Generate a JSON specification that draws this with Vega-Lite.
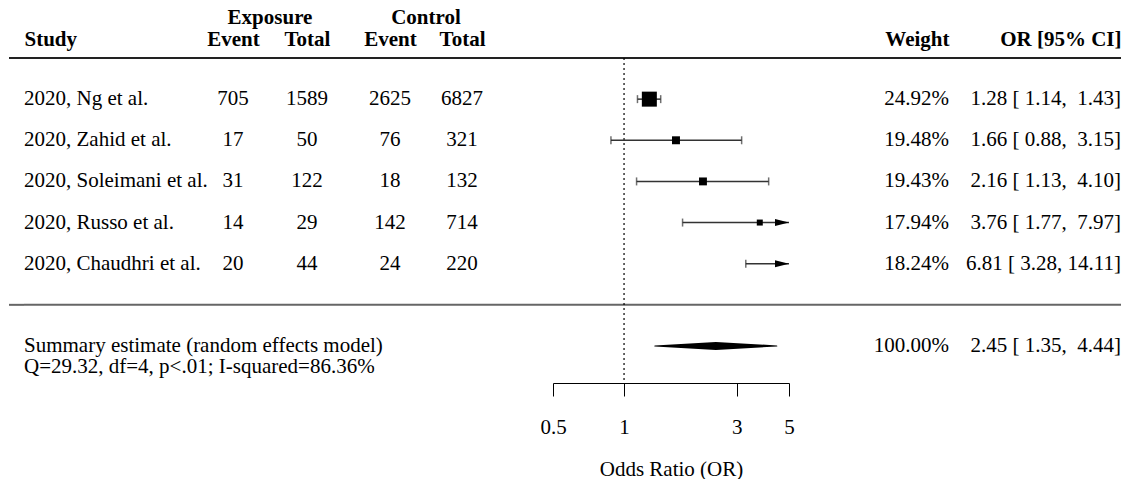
{
  "$schema": "https://vega.github.io/schema/vega-lite/v6.json",
  "background": "white",
  "padding": {"left": 8, "top": 7, "right": 0, "bottom": 0},
  "spacing": 0,
  "bounds": "flush",
  "datasets": {
    "rows": [
      {"type": "study", "study": "2020, Ng et al.", "e_event": 705, "e_total": 1589, "c_event": 2625, "c_total": 6827, "or": 1.28, "lo": 1.14, "hi": 1.43, "weight": 0.2492, "ci": "1.28 [ 1.14,\u00a0 1.43]"},
      {"type": "study", "study": "2020, Zahid et al.", "e_event": 17, "e_total": 50, "c_event": 76, "c_total": 321, "or": 1.66, "lo": 0.88, "hi": 3.15, "weight": 0.1948, "ci": "1.66 [ 0.88,\u00a0 3.15]"},
      {"type": "study", "study": "2020, Soleimani et al.", "e_event": 31, "e_total": 122, "c_event": 18, "c_total": 132, "or": 2.16, "lo": 1.13, "hi": 4.10, "weight": 0.1943, "ci": "2.16 [ 1.13,\u00a0 4.10]"},
      {"type": "study", "study": "2020, Russo et al.", "e_event": 14, "e_total": 29, "c_event": 142, "c_total": 714, "or": 3.76, "lo": 1.77, "hi": 7.97, "weight": 0.1794, "ci": "3.76 [ 1.77,\u00a0 7.97]"},
      {"type": "study", "study": "2020, Chaudhri et al.", "e_event": 20, "e_total": 44, "c_event": 24, "c_total": 220, "or": 6.81, "lo": 3.28, "hi": 14.11, "weight": 0.1824, "ci": "6.81 [ 3.28, 14.11]"},
      {"type": "summary", "study": "Summary estimate (random effects model)\nQ=29.32, df=4, p<.01; I-squared=86.36%", "or": 2.45, "lo": 1.35, "hi": 4.44, "weight": 1.0, "ci": "2.45 [ 1.35,\u00a0 4.44]"}
    ],
    "seps": [{"sep": "_top"}, {"sep": "_mid"}]
  },
  "config": {
    "view": {"stroke": null},
    "font": "Liberation Serif",
    "text": {"font": "Liberation Serif", "fontSize": 21, "color": "black"},
    "axis": {"labelFont": "Liberation Serif", "titleFont": "Liberation Serif", "labelColor": "black", "titleColor": "black", "grid": false},
    "title": {"font": "Liberation Serif", "fontSize": 21, "fontWeight": "bold", "color": "black"}
  },
  "hconcat": [
    {
      "width": 15, "height": 325,
      "layer": [
        {"data": {"name": "seps"}, "transform": [{"filter": "datum.sep === '_top'"}], "mark": {"type": "rule", "color": "#222", "strokeWidth": 2}, "encoding": {"y": {"field": "sep", "type": "nominal", "scale": {"type": "point", "domain": ["_top", "2020, Ng et al.", "2020, Zahid et al.", "2020, Soleimani et al.", "2020, Russo et al.", "2020, Chaudhri et al.", "_mid", "Summary estimate (random effects model)\nQ=29.32, df=4, p<.01; I-squared=86.36%"], "padding": 0.45, "align": 0}, "axis": null}}},
        {"data": {"name": "seps"}, "transform": [{"filter": "datum.sep === '_mid'"}], "mark": {"type": "rule", "color": "#666", "strokeWidth": 2}, "encoding": {"y": {"field": "sep", "type": "nominal", "scale": {"type": "point", "domain": ["_top", "2020, Ng et al.", "2020, Zahid et al.", "2020, Soleimani et al.", "2020, Russo et al.", "2020, Chaudhri et al.", "_mid", "Summary estimate (random effects model)\nQ=29.32, df=4, p<.01; I-squared=86.36%"], "padding": 0.45, "align": 0}, "axis": null}}}
      ]
    },
    {
      "width": 167, "height": 325,
      "layer": [
        {"data": {"name": "seps"}, "transform": [{"filter": "datum.sep === '_top'"}], "mark": {"type": "rule", "color": "#222", "strokeWidth": 2}, "encoding": {"y": {"field": "sep", "type": "nominal", "scale": {"type": "point", "domain": ["_top", "2020, Ng et al.", "2020, Zahid et al.", "2020, Soleimani et al.", "2020, Russo et al.", "2020, Chaudhri et al.", "_mid", "Summary estimate (random effects model)\nQ=29.32, df=4, p<.01; I-squared=86.36%"], "padding": 0.45, "align": 0}, "axis": null}}},
        {"data": {"name": "seps"}, "transform": [{"filter": "datum.sep === '_mid'"}], "mark": {"type": "rule", "color": "#666", "strokeWidth": 2}, "encoding": {"y": {"field": "sep", "type": "nominal", "scale": {"type": "point", "domain": ["_top", "2020, Ng et al.", "2020, Zahid et al.", "2020, Soleimani et al.", "2020, Russo et al.", "2020, Chaudhri et al.", "_mid", "Summary estimate (random effects model)\nQ=29.32, df=4, p<.01; I-squared=86.36%"], "padding": 0.45, "align": 0}, "axis": null}}},
        {
          "data": {"name": "rows"},
          "transform": [{"filter": "datum.type === 'study'"}, {"fold": ["study"], "as": ["key", "value"]}],
          "mark": {"type": "text", "align": "left", "baseline": "middle"},
          "encoding": {
            "x": {"field": "key", "type": "nominal", "scale": {"type": "point", "domain": ["study"], "align": 0}, "axis": {"orient": "top", "labelExpr": "'Study'", "labelAlign": "left", "labelAngle": 0, "labelFontWeight": "bold", "labelFontSize": 21, "labelBaseline": "alphabetic", "labelPadding": 13, "ticks": false, "tickSize": 0, "domain": false, "title": null}},
            "y": {"field": "study", "type": "nominal", "scale": {"type": "point", "domain": ["_top", "2020, Ng et al.", "2020, Zahid et al.", "2020, Soleimani et al.", "2020, Russo et al.", "2020, Chaudhri et al.", "_mid", "Summary estimate (random effects model)\nQ=29.32, df=4, p<.01; I-squared=86.36%"], "padding": 0.45, "align": 0}, "axis": null},
            "text": {"field": "value", "type": "nominal"}
          }
        },
        {
          "data": {"name": "rows"},
          "transform": [{"filter": "datum.type === 'summary'"}, {"fold": ["study"], "as": ["key", "value"]}],
          "mark": {"type": "text", "align": "left", "baseline": "middle", "lineBreak": "\n", "lineHeight": 21, "dy": 0},
          "encoding": {
            "x": {"field": "key", "type": "nominal", "scale": {"type": "point", "domain": ["study"], "align": 0}, "axis": {"orient": "top", "labelExpr": "'Study'", "labelAlign": "left", "labelAngle": 0, "labelFontWeight": "bold", "labelFontSize": 21, "labelBaseline": "alphabetic", "labelPadding": 13, "ticks": false, "tickSize": 0, "domain": false, "title": null}},
            "y": {"field": "study", "type": "nominal", "scale": {"type": "point", "domain": ["_top", "2020, Ng et al.", "2020, Zahid et al.", "2020, Soleimani et al.", "2020, Russo et al.", "2020, Chaudhri et al.", "_mid", "Summary estimate (random effects model)\nQ=29.32, df=4, p<.01; I-squared=86.36%"], "padding": 0.45, "align": 0}, "axis": null},
            "text": {"field": "value", "type": "nominal"}
          }
        }
      ]
    },
    {
      "width": 158, "height": 325,
      "title": {"text": "Exposure", "anchor": "middle", "offset": 0},
      "layer": [
        {"data": {"name": "seps"}, "transform": [{"filter": "datum.sep === '_top'"}], "mark": {"type": "rule", "color": "#222", "strokeWidth": 2}, "encoding": {"y": {"field": "sep", "type": "nominal", "scale": {"type": "point", "domain": ["_top", "2020, Ng et al.", "2020, Zahid et al.", "2020, Soleimani et al.", "2020, Russo et al.", "2020, Chaudhri et al.", "_mid", "Summary estimate (random effects model)\nQ=29.32, df=4, p<.01; I-squared=86.36%"], "padding": 0.45, "align": 0}, "axis": null}}},
        {"data": {"name": "seps"}, "transform": [{"filter": "datum.sep === '_mid'"}], "mark": {"type": "rule", "color": "#666", "strokeWidth": 2}, "encoding": {"y": {"field": "sep", "type": "nominal", "scale": {"type": "point", "domain": ["_top", "2020, Ng et al.", "2020, Zahid et al.", "2020, Soleimani et al.", "2020, Russo et al.", "2020, Chaudhri et al.", "_mid", "Summary estimate (random effects model)\nQ=29.32, df=4, p<.01; I-squared=86.36%"], "padding": 0.45, "align": 0}, "axis": null}}},
        {
          "data": {"name": "rows"},
          "transform": [{"filter": "datum.type === 'study'"}, {"fold": ["e_event", "e_total"], "as": ["key", "value"]}],
          "mark": {"type": "text", "align": "center", "baseline": "middle"},
          "encoding": {
            "x": {"field": "key", "type": "nominal", "scale": {"type": "point", "domain": ["e_event", "e_total"], "padding": 0.568}, "axis": {"orient": "top", "labelExpr": "datum.value === 'e_event' ? 'Event' : 'Total'", "labelAlign": "center", "labelAngle": 0, "labelFontWeight": "bold", "labelFontSize": 21, "labelBaseline": "alphabetic", "labelPadding": 13, "ticks": false, "tickSize": 0, "domain": false, "title": null}},
            "y": {"field": "study", "type": "nominal", "scale": {"type": "point", "domain": ["_top", "2020, Ng et al.", "2020, Zahid et al.", "2020, Soleimani et al.", "2020, Russo et al.", "2020, Chaudhri et al.", "_mid", "Summary estimate (random effects model)\nQ=29.32, df=4, p<.01; I-squared=86.36%"], "padding": 0.45, "align": 0}, "axis": null},
            "text": {"field": "value", "type": "quantitative", "format": "d"}
          }
        }
      ]
    },
    {
      "width": 154, "height": 325,
      "title": {"text": "Control", "anchor": "middle", "offset": 0},
      "layer": [
        {"data": {"name": "seps"}, "transform": [{"filter": "datum.sep === '_top'"}], "mark": {"type": "rule", "color": "#222", "strokeWidth": 2}, "encoding": {"y": {"field": "sep", "type": "nominal", "scale": {"type": "point", "domain": ["_top", "2020, Ng et al.", "2020, Zahid et al.", "2020, Soleimani et al.", "2020, Russo et al.", "2020, Chaudhri et al.", "_mid", "Summary estimate (random effects model)\nQ=29.32, df=4, p<.01; I-squared=86.36%"], "padding": 0.45, "align": 0}, "axis": null}}},
        {"data": {"name": "seps"}, "transform": [{"filter": "datum.sep === '_mid'"}], "mark": {"type": "rule", "color": "#666", "strokeWidth": 2}, "encoding": {"y": {"field": "sep", "type": "nominal", "scale": {"type": "point", "domain": ["_top", "2020, Ng et al.", "2020, Zahid et al.", "2020, Soleimani et al.", "2020, Russo et al.", "2020, Chaudhri et al.", "_mid", "Summary estimate (random effects model)\nQ=29.32, df=4, p<.01; I-squared=86.36%"], "padding": 0.45, "align": 0}, "axis": null}}},
        {
          "data": {"name": "rows"},
          "transform": [{"filter": "datum.type === 'study'"}, {"fold": ["c_event", "c_total"], "as": ["key", "value"]}],
          "mark": {"type": "text", "align": "center", "baseline": "middle"},
          "encoding": {
            "x": {"field": "key", "type": "nominal", "scale": {"type": "point", "domain": ["c_event", "c_total"], "padding": 0.569}, "axis": {"orient": "top", "labelExpr": "datum.value === 'c_event' ? 'Event' : 'Total'", "labelAlign": "center", "labelAngle": 0, "labelFontWeight": "bold", "labelFontSize": 21, "labelBaseline": "alphabetic", "labelPadding": 13, "ticks": false, "tickSize": 0, "domain": false, "title": null}},
            "y": {"field": "study", "type": "nominal", "scale": {"type": "point", "domain": ["_top", "2020, Ng et al.", "2020, Zahid et al.", "2020, Soleimani et al.", "2020, Russo et al.", "2020, Chaudhri et al.", "_mid", "Summary estimate (random effects model)\nQ=29.32, df=4, p<.01; I-squared=86.36%"], "padding": 0.45, "align": 0}, "axis": null},
            "text": {"field": "value", "type": "quantitative", "format": "d"}
          }
        }
      ]
    },
    {
      "width": 50, "height": 325,
      "layer": [
        {"data": {"name": "seps"}, "transform": [{"filter": "datum.sep === '_top'"}], "mark": {"type": "rule", "color": "#222", "strokeWidth": 2}, "encoding": {"y": {"field": "sep", "type": "nominal", "scale": {"type": "point", "domain": ["_top", "2020, Ng et al.", "2020, Zahid et al.", "2020, Soleimani et al.", "2020, Russo et al.", "2020, Chaudhri et al.", "_mid", "Summary estimate (random effects model)\nQ=29.32, df=4, p<.01; I-squared=86.36%"], "padding": 0.45, "align": 0}, "axis": null}}},
        {"data": {"name": "seps"}, "transform": [{"filter": "datum.sep === '_mid'"}], "mark": {"type": "rule", "color": "#666", "strokeWidth": 2}, "encoding": {"y": {"field": "sep", "type": "nominal", "scale": {"type": "point", "domain": ["_top", "2020, Ng et al.", "2020, Zahid et al.", "2020, Soleimani et al.", "2020, Russo et al.", "2020, Chaudhri et al.", "_mid", "Summary estimate (random effects model)\nQ=29.32, df=4, p<.01; I-squared=86.36%"], "padding": 0.45, "align": 0}, "axis": null}}}
      ]
    },
    {
      "width": 236, "height": 325,
      "layer": [
        {"data": {"name": "seps"}, "transform": [{"filter": "datum.sep === '_top'"}], "mark": {"type": "rule", "color": "#222", "strokeWidth": 2}, "encoding": {"y": {"field": "sep", "type": "nominal", "scale": {"type": "point", "domain": ["_top", "2020, Ng et al.", "2020, Zahid et al.", "2020, Soleimani et al.", "2020, Russo et al.", "2020, Chaudhri et al.", "_mid", "Summary estimate (random effects model)\nQ=29.32, df=4, p<.01; I-squared=86.36%"], "padding": 0.45, "align": 0}, "axis": null}}},
        {"data": {"name": "seps"}, "transform": [{"filter": "datum.sep === '_mid'"}], "mark": {"type": "rule", "color": "#666", "strokeWidth": 2}, "encoding": {"y": {"field": "sep", "type": "nominal", "scale": {"type": "point", "domain": ["_top", "2020, Ng et al.", "2020, Zahid et al.", "2020, Soleimani et al.", "2020, Russo et al.", "2020, Chaudhri et al.", "_mid", "Summary estimate (random effects model)\nQ=29.32, df=4, p<.01; I-squared=86.36%"], "padding": 0.45, "align": 0}, "axis": null}}},
        {
          "data": {"name": "seps"}, "transform": [{"filter": "datum.sep === '_top'"}],
          "mark": {"type": "rule", "color": "black", "strokeWidth": 1.2, "strokeDash": [2, 3]},
          "encoding": {
            "x": {"datum": 1, "type": "quantitative", "title": "Odds Ratio (OR)", "scale": {"type": "log", "domain": [0.5, 5], "nice": false}, "axis": {"values": [0.5, 1, 3, 5], "format": "~g", "labelFlush": false, "labelOverlap": false, "domainColor": "black", "domainWidth": 1, "tickColor": "black", "tickWidth": 1, "tickSize": 13, "labelFontSize": 21, "labelPadding": 20, "title": "Odds Ratio (OR)", "titleFontSize": 21, "titleFontWeight": "normal", "titlePadding": 21, "grid": false}}
          }
        },
        {
          "data": {"name": "rows"}, "transform": [{"filter": "datum.type === 'study'"}],
          "mark": {"type": "rule", "color": "#333", "strokeWidth": 1.5, "clip": true},
          "encoding": {
            "x": {"field": "lo", "type": "quantitative", "title": "Odds Ratio (OR)", "scale": {"type": "log", "domain": [0.5, 5], "nice": false}, "axis": {"values": [0.5, 1, 3, 5], "format": "~g", "labelFlush": false, "labelOverlap": false, "domainColor": "black", "domainWidth": 1, "tickColor": "black", "tickWidth": 1, "tickSize": 13, "labelFontSize": 21, "labelPadding": 20, "title": "Odds Ratio (OR)", "titleFontSize": 21, "titleFontWeight": "normal", "titlePadding": 21, "grid": false}},
            "x2": {"field": "hi"},
            "y": {"field": "study", "type": "nominal", "scale": {"type": "point", "domain": ["_top", "2020, Ng et al.", "2020, Zahid et al.", "2020, Soleimani et al.", "2020, Russo et al.", "2020, Chaudhri et al.", "_mid", "Summary estimate (random effects model)\nQ=29.32, df=4, p<.01; I-squared=86.36%"], "padding": 0.45, "align": 0}, "axis": null}
          }
        },
        {
          "data": {"name": "rows"}, "transform": [{"filter": "datum.type === 'study'"}],
          "mark": {"type": "tick", "orient": "vertical", "color": "#333", "size": 8, "thickness": 1.5},
          "encoding": {
            "x": {"field": "lo", "type": "quantitative", "title": "Odds Ratio (OR)", "scale": {"type": "log", "domain": [0.5, 5], "nice": false}, "axis": {"values": [0.5, 1, 3, 5], "format": "~g", "labelFlush": false, "labelOverlap": false, "domainColor": "black", "domainWidth": 1, "tickColor": "black", "tickWidth": 1, "tickSize": 13, "labelFontSize": 21, "labelPadding": 20, "title": "Odds Ratio (OR)", "titleFontSize": 21, "titleFontWeight": "normal", "titlePadding": 21, "grid": false}},
            "y": {"field": "study", "type": "nominal", "scale": {"type": "point", "domain": ["_top", "2020, Ng et al.", "2020, Zahid et al.", "2020, Soleimani et al.", "2020, Russo et al.", "2020, Chaudhri et al.", "_mid", "Summary estimate (random effects model)\nQ=29.32, df=4, p<.01; I-squared=86.36%"], "padding": 0.45, "align": 0}, "axis": null}
          }
        },
        {
          "data": {"name": "rows"}, "transform": [{"filter": "datum.type === 'study' && datum.hi <= 5"}],
          "mark": {"type": "tick", "orient": "vertical", "color": "#333", "size": 8, "thickness": 1.5},
          "encoding": {
            "x": {"field": "hi", "type": "quantitative", "title": "Odds Ratio (OR)", "scale": {"type": "log", "domain": [0.5, 5], "nice": false}, "axis": {"values": [0.5, 1, 3, 5], "format": "~g", "labelFlush": false, "labelOverlap": false, "domainColor": "black", "domainWidth": 1, "tickColor": "black", "tickWidth": 1, "tickSize": 13, "labelFontSize": 21, "labelPadding": 20, "title": "Odds Ratio (OR)", "titleFontSize": 21, "titleFontWeight": "normal", "titlePadding": 21, "grid": false}},
            "y": {"field": "study", "type": "nominal", "scale": {"type": "point", "domain": ["_top", "2020, Ng et al.", "2020, Zahid et al.", "2020, Soleimani et al.", "2020, Russo et al.", "2020, Chaudhri et al.", "_mid", "Summary estimate (random effects model)\nQ=29.32, df=4, p<.01; I-squared=86.36%"], "padding": 0.45, "align": 0}, "axis": null}
          }
        },
        {
          "data": {"name": "rows"}, "transform": [{"filter": "datum.type === 'study' && datum.or <= 5"}],
          "mark": {"type": "point", "shape": "square", "filled": true, "color": "black", "opacity": 1},
          "encoding": {
            "x": {"field": "or", "type": "quantitative", "title": "Odds Ratio (OR)", "scale": {"type": "log", "domain": [0.5, 5], "nice": false}, "axis": {"values": [0.5, 1, 3, 5], "format": "~g", "labelFlush": false, "labelOverlap": false, "domainColor": "black", "domainWidth": 1, "tickColor": "black", "tickWidth": 1, "tickSize": 13, "labelFontSize": 21, "labelPadding": 20, "title": "Odds Ratio (OR)", "titleFontSize": 21, "titleFontWeight": "normal", "titlePadding": 21, "grid": false}},
            "y": {"field": "study", "type": "nominal", "scale": {"type": "point", "domain": ["_top", "2020, Ng et al.", "2020, Zahid et al.", "2020, Soleimani et al.", "2020, Russo et al.", "2020, Chaudhri et al.", "_mid", "Summary estimate (random effects model)\nQ=29.32, df=4, p<.01; I-squared=86.36%"], "padding": 0.45, "align": 0}, "axis": null},
            "size": {"field": "weight", "type": "quantitative", "scale": {"type": "pow", "exponent": 4, "domain": [0.1794, 0.2492], "range": [36, 225]}, "legend": null}
          }
        },
        {
          "data": {"name": "rows"}, "transform": [{"filter": "datum.type === 'study' && datum.hi > 5"}],
          "mark": {"type": "point", "shape": "M0,0L-2,-0.5L-2,0.5Z", "filled": true, "color": "black", "opacity": 1, "size": 196},
          "encoding": {
            "x": {"datum": 5, "type": "quantitative", "title": "Odds Ratio (OR)", "scale": {"type": "log", "domain": [0.5, 5], "nice": false}, "axis": {"values": [0.5, 1, 3, 5], "format": "~g", "labelFlush": false, "labelOverlap": false, "domainColor": "black", "domainWidth": 1, "tickColor": "black", "tickWidth": 1, "tickSize": 13, "labelFontSize": 21, "labelPadding": 20, "title": "Odds Ratio (OR)", "titleFontSize": 21, "titleFontWeight": "normal", "titlePadding": 21, "grid": false}},
            "y": {"field": "study", "type": "nominal", "scale": {"type": "point", "domain": ["_top", "2020, Ng et al.", "2020, Zahid et al.", "2020, Soleimani et al.", "2020, Russo et al.", "2020, Chaudhri et al.", "_mid", "Summary estimate (random effects model)\nQ=29.32, df=4, p<.01; I-squared=86.36%"], "padding": 0.45, "align": 0}, "axis": null}
          }
        },
        {
          "data": {"name": "rows"}, "transform": [{"filter": "datum.type === 'summary'"}, {"fold": ["lo", "or", "hi"], "as": ["k", "v"]}],
          "mark": {"type": "trail", "color": "black"},
          "encoding": {
            "x": {"field": "v", "type": "quantitative", "title": "Odds Ratio (OR)", "scale": {"type": "log", "domain": [0.5, 5], "nice": false}, "axis": {"values": [0.5, 1, 3, 5], "format": "~g", "labelFlush": false, "labelOverlap": false, "domainColor": "black", "domainWidth": 1, "tickColor": "black", "tickWidth": 1, "tickSize": 13, "labelFontSize": 21, "labelPadding": 20, "title": "Odds Ratio (OR)", "titleFontSize": 21, "titleFontWeight": "normal", "titlePadding": 21, "grid": false}},
            "y": {"field": "study", "type": "nominal", "scale": {"type": "point", "domain": ["_top", "2020, Ng et al.", "2020, Zahid et al.", "2020, Soleimani et al.", "2020, Russo et al.", "2020, Chaudhri et al.", "_mid", "Summary estimate (random effects model)\nQ=29.32, df=4, p<.01; I-squared=86.36%"], "padding": 0.45, "align": 0}, "axis": null},
            "order": {"field": "v", "type": "quantitative"},
            "size": {"condition": {"test": "datum.k === 'or'", "value": 8}, "value": 0}
          }
        }
      ]
    },
    {
      "width": 160, "height": 325,
      "layer": [
        {"data": {"name": "seps"}, "transform": [{"filter": "datum.sep === '_top'"}], "mark": {"type": "rule", "color": "#222", "strokeWidth": 2}, "encoding": {"y": {"field": "sep", "type": "nominal", "scale": {"type": "point", "domain": ["_top", "2020, Ng et al.", "2020, Zahid et al.", "2020, Soleimani et al.", "2020, Russo et al.", "2020, Chaudhri et al.", "_mid", "Summary estimate (random effects model)\nQ=29.32, df=4, p<.01; I-squared=86.36%"], "padding": 0.45, "align": 0}, "axis": null}}},
        {"data": {"name": "seps"}, "transform": [{"filter": "datum.sep === '_mid'"}], "mark": {"type": "rule", "color": "#666", "strokeWidth": 2}, "encoding": {"y": {"field": "sep", "type": "nominal", "scale": {"type": "point", "domain": ["_top", "2020, Ng et al.", "2020, Zahid et al.", "2020, Soleimani et al.", "2020, Russo et al.", "2020, Chaudhri et al.", "_mid", "Summary estimate (random effects model)\nQ=29.32, df=4, p<.01; I-squared=86.36%"], "padding": 0.45, "align": 0}, "axis": null}}},
        {
          "data": {"name": "rows"},
          "transform": [{"fold": ["weight"], "as": ["key", "value"]}],
          "mark": {"type": "text", "align": "right", "baseline": "middle"},
          "encoding": {
            "x": {"field": "key", "type": "nominal", "scale": {"type": "point", "domain": ["weight"], "align": 1}, "axis": {"orient": "top", "labelExpr": "'Weight'", "labelAlign": "right", "labelAngle": 0, "labelFontWeight": "bold", "labelFontSize": 21, "labelBaseline": "alphabetic", "labelPadding": 13, "ticks": false, "tickSize": 0, "domain": false, "title": null}},
            "y": {"field": "study", "type": "nominal", "scale": {"type": "point", "domain": ["_top", "2020, Ng et al.", "2020, Zahid et al.", "2020, Soleimani et al.", "2020, Russo et al.", "2020, Chaudhri et al.", "_mid", "Summary estimate (random effects model)\nQ=29.32, df=4, p<.01; I-squared=86.36%"], "padding": 0.45, "align": 0}, "axis": null},
            "text": {"field": "value", "type": "quantitative", "format": ".2%"}
          }
        }
      ]
    },
    {
      "width": 172, "height": 325,
      "layer": [
        {"data": {"name": "seps"}, "transform": [{"filter": "datum.sep === '_top'"}], "mark": {"type": "rule", "color": "#222", "strokeWidth": 2}, "encoding": {"y": {"field": "sep", "type": "nominal", "scale": {"type": "point", "domain": ["_top", "2020, Ng et al.", "2020, Zahid et al.", "2020, Soleimani et al.", "2020, Russo et al.", "2020, Chaudhri et al.", "_mid", "Summary estimate (random effects model)\nQ=29.32, df=4, p<.01; I-squared=86.36%"], "padding": 0.45, "align": 0}, "axis": null}}},
        {"data": {"name": "seps"}, "transform": [{"filter": "datum.sep === '_mid'"}], "mark": {"type": "rule", "color": "#666", "strokeWidth": 2}, "encoding": {"y": {"field": "sep", "type": "nominal", "scale": {"type": "point", "domain": ["_top", "2020, Ng et al.", "2020, Zahid et al.", "2020, Soleimani et al.", "2020, Russo et al.", "2020, Chaudhri et al.", "_mid", "Summary estimate (random effects model)\nQ=29.32, df=4, p<.01; I-squared=86.36%"], "padding": 0.45, "align": 0}, "axis": null}}},
        {
          "data": {"name": "rows"},
          "transform": [{"fold": ["ci"], "as": ["key", "value"]}],
          "mark": {"type": "text", "align": "right", "baseline": "middle"},
          "encoding": {
            "x": {"field": "key", "type": "nominal", "scale": {"type": "point", "domain": ["ci"], "align": 1}, "axis": {"orient": "top", "labelExpr": "'OR [95% CI]'", "labelAlign": "right", "labelAngle": 0, "labelFontWeight": "bold", "labelFontSize": 21, "labelBaseline": "alphabetic", "labelPadding": 13, "ticks": false, "tickSize": 0, "domain": false, "title": null}},
            "y": {"field": "study", "type": "nominal", "scale": {"type": "point", "domain": ["_top", "2020, Ng et al.", "2020, Zahid et al.", "2020, Soleimani et al.", "2020, Russo et al.", "2020, Chaudhri et al.", "_mid", "Summary estimate (random effects model)\nQ=29.32, df=4, p<.01; I-squared=86.36%"], "padding": 0.45, "align": 0}, "axis": null},
            "text": {"field": "value", "type": "nominal"}
          }
        }
      ]
    }
  ]
}
